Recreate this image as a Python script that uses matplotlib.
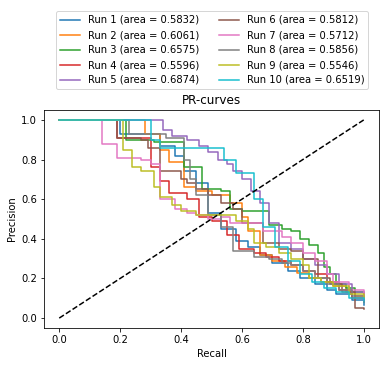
import matplotlib
matplotlib.use("Agg")
import matplotlib.pyplot as plt

labels = ["Run 1 (area = 0.5832)", "Run 2 (area = 0.6061)", "Run 3 (area = 0.6575)",
          "Run 4 (area = 0.5596)", "Run 5 (area = 0.6874)", "Run 6 (area = 0.5812)",
          "Run 7 (area = 0.5712)", "Run 8 (area = 0.5856)", "Run 9 (area = 0.5546)",
          "Run 10 (area = 0.6519)"]

recall_1 = [0, 0.20, 0.30, 0.33, 0.38, 0.41, 0.45, 0.49, 0.53, 0.58, 0.62, 0.66, 0.70, 0.75, 0.79, 0.84, 0.88, 0.91, 0.96, 1.0]
precision_1 = [1.0, 0.93, 0.93, 0.87, 0.82, 0.74, 0.68, 0.53, 0.45, 0.39, 0.36, 0.32, 0.28, 0.24, 0.20, 0.17, 0.14, 0.12, 0.09, 0.065]

recall_2 = [0, 0.28, 0.33, 0.36, 0.41, 0.45, 0.50, 0.56, 0.60, 0.62, 0.66, 0.70, 0.74, 0.78, 0.82, 0.86, 0.90, 0.94, 0.97, 1.0]
precision_2 = [1.0, 0.93, 0.85, 0.79, 0.66, 0.64, 0.62, 0.58, 0.51, 0.44, 0.32, 0.29, 0.26, 0.23, 0.20, 0.18, 0.16, 0.13, 0.11, 0.10]

recall_3 = [0, 0.22, 0.31, 0.41, 0.47, 0.53, 0.56, 0.60, 0.69, 0.73, 0.76, 0.79, 0.82, 0.85, 0.87, 0.89, 0.91, 0.94, 0.97, 1.0]
precision_3 = [1.0, 0.90, 0.89, 0.76, 0.65, 0.64, 0.55, 0.54, 0.47, 0.45, 0.44, 0.40, 0.37, 0.33, 0.26, 0.22, 0.17, 0.15, 0.13, 0.11]

recall_4 = [0, 0.19, 0.30, 0.33, 0.36, 0.42, 0.46, 0.50, 0.55, 0.59, 0.64, 0.68, 0.72, 0.76, 0.80, 0.84, 0.88, 0.92, 0.96, 1.0]
precision_4 = [1.0, 0.91, 0.76, 0.69, 0.63, 0.60, 0.51, 0.49, 0.42, 0.35, 0.33, 0.31, 0.29, 0.27, 0.24, 0.22, 0.18, 0.14, 0.10, 0.08]

recall_5 = [0, 0.34, 0.37, 0.42, 0.46, 0.49, 0.52, 0.55, 0.57, 0.60, 0.63, 0.66, 0.69, 0.72, 0.76, 0.80, 0.84, 0.88, 0.92, 0.96, 1.0]
precision_5 = [1.0, 0.95, 0.92, 0.90, 0.87, 0.84, 0.80, 0.78, 0.74, 0.70, 0.64, 0.58, 0.48, 0.38, 0.35, 0.30, 0.27, 0.22, 0.17, 0.13, 0.09]

recall_6 = [0, 0.19, 0.27, 0.29, 0.33, 0.40, 0.42, 0.45, 0.49, 0.53, 0.57, 0.60, 0.67, 0.72, 0.76, 0.80, 0.85, 0.89, 0.93, 0.97, 1.0]
precision_6 = [1.0, 0.91, 0.90, 0.86, 0.74, 0.70, 0.68, 0.65, 0.62, 0.58, 0.55, 0.48, 0.38, 0.35, 0.34, 0.30, 0.20, 0.17, 0.13, 0.05, 0.045]

recall_7 = [0, 0.14, 0.19, 0.27, 0.30, 0.33, 0.38, 0.42, 0.45, 0.49, 0.53, 0.56, 0.64, 0.67, 0.73, 0.76, 0.80, 0.84, 0.88, 0.90, 0.95, 1.0]
precision_7 = [1.0, 0.88, 0.81, 0.80, 0.78, 0.60, 0.55, 0.53, 0.52, 0.50, 0.51, 0.48, 0.48, 0.44, 0.41, 0.38, 0.33, 0.29, 0.22, 0.18, 0.14, 0.10]

recall_8 = [0, 0.23, 0.35, 0.41, 0.43, 0.45, 0.49, 0.53, 0.57, 0.64, 0.69, 0.73, 0.76, 0.80, 0.84, 0.88, 0.92, 0.96, 1.0]
precision_8 = [1.0, 0.93, 0.91, 0.80, 0.70, 0.62, 0.52, 0.46, 0.34, 0.31, 0.30, 0.28, 0.27, 0.24, 0.20, 0.17, 0.14, 0.11, 0.10]

recall_9 = [0, 0.21, 0.24, 0.27, 0.31, 0.33, 0.37, 0.40, 0.45, 0.50, 0.58, 0.62, 0.64, 0.68, 0.72, 0.76, 0.80, 0.82, 0.86, 0.90, 0.95, 1.0]
precision_9 = [1.0, 0.85, 0.76, 0.74, 0.66, 0.61, 0.57, 0.54, 0.52, 0.52, 0.49, 0.45, 0.38, 0.36, 0.33, 0.30, 0.27, 0.20, 0.18, 0.16, 0.12, 0.10]

recall_10 = [0, 0.30, 0.33, 0.49, 0.54, 0.58, 0.64, 0.67, 0.71, 0.75, 0.79, 0.83, 0.87, 0.91, 0.95, 1.0]
precision_10 = [1.0, 0.90, 0.86, 0.86, 0.80, 0.73, 0.60, 0.46, 0.36, 0.29, 0.22, 0.18, 0.15, 0.13, 0.10, 0.08]

recalls = [recall_1, recall_2, recall_3, recall_4, recall_5, recall_6, recall_7, recall_8, recall_9, recall_10]
precisions = [precision_1, precision_2, precision_3, precision_4, precision_5, precision_6, precision_7, precision_8, precision_9, precision_10]

fig = plt.figure(figsize=(386 / 72, 366 / 72), dpi=72)
ax = fig.add_axes([44 / 386, 1 - 328 / 366, (379 - 44) / 386, (328 - 110) / 366])

for r, p, lab in zip(recalls, precisions, labels):
    ax.step(r, p, where="post", label=lab, linewidth=1.5)

ax.plot([0, 1], [0, 1], "k--")
ax.set_xlabel("Recall")
ax.set_ylabel("Precision")
ax.set_title("PR-curves")
ax.set_xlim(-0.05, 1.05)
ax.set_ylim(-0.05, 1.05)

handles, labs = ax.get_legend_handles_labels()
fig.legend(handles[:10], labs[:10], ncol=2, loc="upper center",
           bbox_to_anchor=(212 / 386, 1 - 6 / 366))

fig.savefig("out.png", dpi=72)
